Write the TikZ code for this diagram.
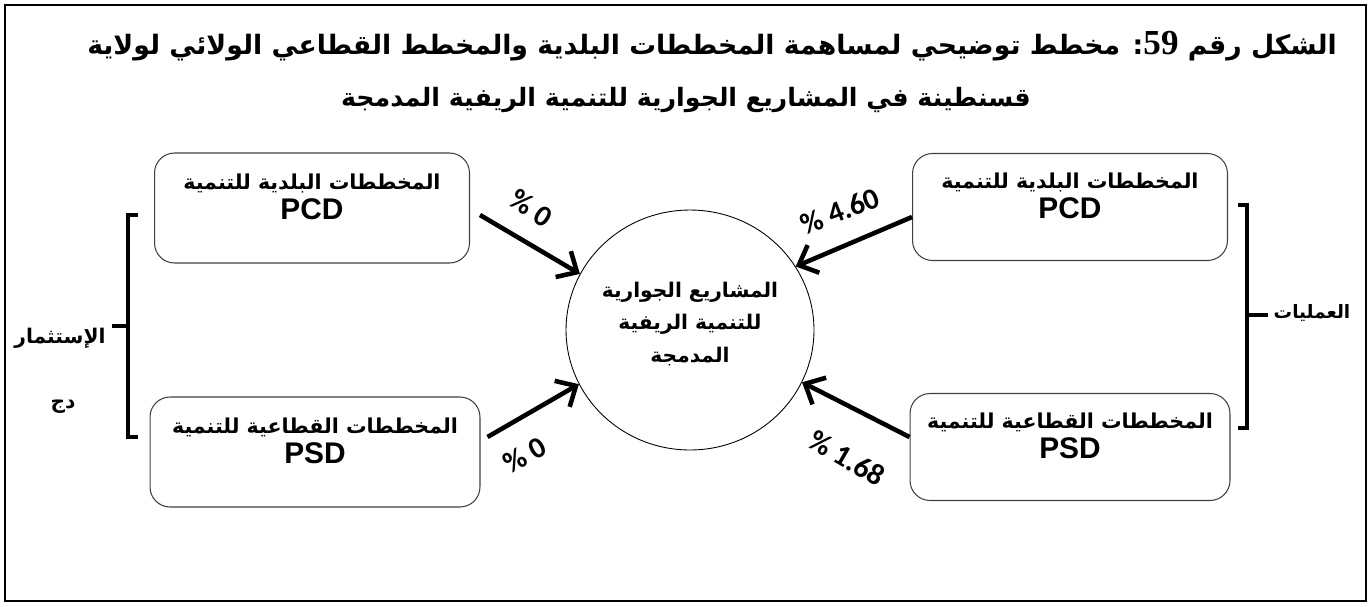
\documentclass[tikz,border=0pt]{standalone}
\usepackage{fontspec}
\setmainfont{Liberation Sans}
\newfontfamily\arabicfont[Script=Arabic]{DejaVu Sans}
\newfontfamily\numfont{Liberation Serif}
\newfontfamily\pctfont{Carlito}
\TeXXeTstate=1
\usetikzlibrary{arrows.meta,shapes.geometric}

\begin{document}
\begin{tikzpicture}[x=0.02cm,y=-0.02cm,
  plan/.style={draw=black!75,line width=0.6pt,rounded corners=0.4cm,minimum height=2.2cm},
  plantxt/.style={align=center,font=\bfseries\fontsize{17}{17}\selectfont},
  arab/.style={font=\arabicfont\bfseries\fontsize{#1}{16}\selectfont},
  flow/.style={line width=2.6pt,-{Straight Barb[length=3.2mm,width=6mm]}},
  pct/.style={font=\pctfont\bfseries\fontsize{17}{18}\selectfont},
  brace/.style={line width=2.4pt}]
\useasboundingbox (0,0) rectangle (1372,606);
\draw[line width=0.8pt] (5,5) rectangle (1366,601);

% title
\node[arab=15.2,inner sep=0pt] (title1) at (712,46)
  {\beginR الشكل رقم \beginL{\numfont\fontsize{20}{20}\selectfont 59}\endL: مخطط توضيحي لمساهمة المخططات البلدية والمخطط القطاعي الولائي لولاية\endR};
\node[arab=14.4,inner sep=0pt] (title2) at (686,100)
  {\beginR قسنطينة في المشاريع الجوارية للتنمية الريفية المدمجة\endR};

% centre
\node[ellipse,draw,line width=0.5pt,minimum width=4.96cm,minimum height=4.8cm] (hub) at (690,330) {};
\node[align=center,font=\arabicfont\bfseries\fontsize{11.5}{18.5}\selectfont] (hubtxt) at (690,324)
  {\beginR المشاريع الجوارية\endR\\ \beginR للتنمية الريفية\endR\\ \beginR المدمجة\endR};

% left side
\node[plan,minimum width=6.3cm] (b1) at (312,208) {};
\node[plantxt] (t1) at (312,197) {{\arabicfont\fontsize{11.7}{17}\selectfont\beginR المخططات البلدية للتنمية\endR}\\ PCD};
\node[plan,minimum width=6.6cm] (b2) at (315,452) {};
\node[plantxt] (t2) at (315,441) {{\arabicfont\fontsize{11.7}{17}\selectfont\beginR المخططات القطاعية للتنمية\endR}\\ PSD};

% right side
\node[plan,minimum width=6.3cm,minimum height=2.14cm] (b3) at (1070,207) {};
\node[plantxt] (t3) at (1070,196) {{\arabicfont\fontsize{11.7}{17}\selectfont\beginR المخططات البلدية للتنمية\endR}\\ PCD};
\node[plan,minimum width=6.4cm,minimum height=2.14cm] (b4) at (1070,447) {};
\node[plantxt] (t4) at (1070,436) {{\arabicfont\fontsize{11.7}{17}\selectfont\beginR المخططات القطاعية للتنمية\endR}\\ PSD};

% arrows
\draw[flow] ([shift={(10,7)}]b1.east) -- (hub.153);
\draw[flow] ([shift={(7,-15)}]b2.east) -- (hub.206);
\draw[flow] ([shift={(0,10)}]b3.west) -- (hub.31);
\draw[flow] ([shift={(0,-10)}]b4.west) -- (hub.335);
\node[pct,rotate=-33,inner sep=0pt] (p1) at (531,208) {\% 0};
\node[pct,rotate=29,inner sep=0pt] (p2) at (525,455) {\% 0};
\node[pct,rotate=21,inner sep=0pt] (p3) at (840,211) {\% 4.60};
\node[pct,rotate=-30,inner sep=0pt] (p4) at (847,458) {\% 1.68};

% brackets
\node[arab=11.5] (inv) at (60,338) {\beginR الإستثمار\endR};
\node[arab=11.5] (dz) at (63,407) {\beginR دج\endR};
\draw[brace] (138,215) -- (128,215) -- (128,437) -- (138,437);
\coordinate (brL) at (128,326);
\draw[brace] (brL) -- (brL -| inv.east);
\node[arab=10.5] (ops) at (1312,313) {\beginR العمليات\endR};
\draw[brace] (1238,205) -- (1247,205) -- (1247,428) -- (1238,428);
\coordinate (brR) at (1247,315);
\draw[brace] (brR) -- (brR -| ops.west);
\end{tikzpicture}
\end{document}
